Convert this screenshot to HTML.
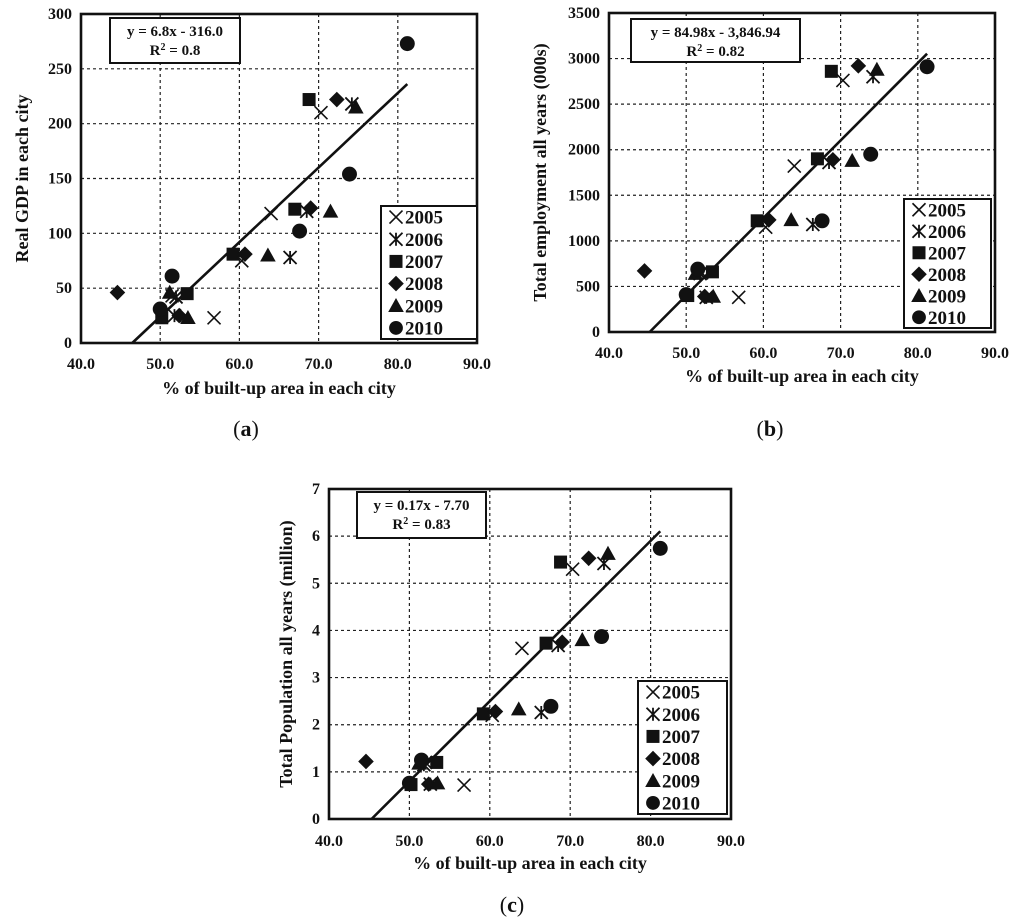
<!DOCTYPE html>
<html><head><meta charset="utf-8"><style>
body{margin:0;background:#fff;width:1024px;height:921px;overflow:hidden}
svg{position:absolute;left:0;top:0}
text{font-family:"Liberation Serif",serif;font-weight:bold;fill:#111}
</style></head><body>
<svg id="s" width="1024" height="921"></svg>
<script>
const years=["2005","2006","2007","2008","2009","2010"];
// chart a
const aX=[[70.3,64.0,60.3,56.8,51.5],[74.2,68.5,66.4,52.0,51.8],[68.8,67.0,59.2,53.4,50.2],[72.3,69.0,60.7,44.6,52.4],[74.7,71.5,63.6,53.5,51.2],[81.2,73.9,67.6,51.5,50.0]];
const aY=[[210,118,75,23,43],[218,120,78,42,25],[222,122,81,45,23],[222,123,81,46,25],[215,120,80,23,46],[273,154,102,61,31]];
// chart b
const bX=[[70.3,64.0,60.3,56.8,52.0],[74.2,68.5,66.4,52.6,51.8],[68.8,67.0,59.2,53.4,50.2],[72.3,69.0,60.7,44.6,52.4],[74.7,71.5,63.6,53.5,51.2],[81.2,73.9,67.6,51.5,50.0]];
const bY=[[2760,1820,1150,380,650],[2800,1860,1180,380,640],[2860,1900,1220,660,400],[2920,1890,1230,670,390],[2880,1880,1230,390,640],[2910,1950,1220,690,410]];
// chart c
const cX=bX;
const cY=[[5.3,3.62,2.2,0.72,1.2],[5.42,3.68,2.26,0.74,1.15],[5.45,3.73,2.23,1.2,0.73],[5.53,3.75,2.28,1.22,0.74],[5.63,3.8,2.33,0.76,1.18],[5.74,3.87,2.39,1.25,0.76]];
const xTicks=["40.0","50.0","60.0","70.0","80.0","90.0"];
const aTicks=[0,50,100,150,200,250,300];
const bTicks=[0,500,1000,1500,2000,2500,3000,3500];
const cTicks=[0,1,2,3,4,5,6,7];
const aFit=[6.8,-316.0], bFit=[84.98,-3846.94], cFit=[0.17,-7.70];

const NS="http://www.w3.org/2000/svg";
const svg=document.getElementById('s');
function el(t,a,p){const e=document.createElementNS(NS,t);for(const k in a)e.setAttribute(k,a[k]);(p||svg).appendChild(e);return e;}
function marker(g,i,cx,cy,s){
 let e;
 if(i===0){e=el('path',{d:`M${cx-s},${cy-s}L${cx+s},${cy+s}M${cx-s},${cy+s}L${cx+s},${cy-s}`,stroke:'#111','stroke-width':1.6,fill:'none'},g);}
 else if(i===1){e=el('path',{d:`M${cx-s},${cy-s}L${cx+s},${cy+s}M${cx-s},${cy+s}L${cx+s},${cy-s}M${cx},${cy-s}L${cx},${cy+s}`,stroke:'#111','stroke-width':1.8,fill:'none'},g);}
 else if(i===2){e=el('rect',{x:cx-s,y:cy-s,width:2*s,height:2*s,fill:'#111'},g);}
 else if(i===3){const d=s*1.2;e=el('path',{d:`M${cx},${cy-d}L${cx+d},${cy}L${cx},${cy+d}L${cx-d},${cy}Z`,fill:'#111'},g);}
 else if(i===4){const d=s*1.2;e=el('path',{d:`M${cx},${cy-d}L${cx+d},${cy+d*0.8}L${cx-d},${cy+d*0.8}Z`,fill:'#111'},g);}
 else {e=el('circle',{cx:cx,cy:cy,r:s*1.15,fill:'#111'},g);}
 return e;
}
function chart(o){
 const g=el('g',{});
 
 
 const xs=v=>o.L+(v-40)/50*(o.R-o.L);
 const ys=v=>o.B-v/o.ymax*(o.B-o.T);
 for(let k=1;k<5;k++){const x=xs(40+k*10);const l=el('line',{x1:x,x2:x,y1:o.T,y2:o.B,stroke:'#222','stroke-width':1.2,'stroke-dasharray':'3,3'},g);
  }
 o.ticks.forEach((t,k)=>{const y=ys(t);
  if(k>0&&k<o.ticks.length-1){const l=el('line',{x1:o.L,x2:o.R,y1:y,y2:y,stroke:'#222','stroke-width':1.2,'stroke-dasharray':'3,3'},g);
   }
  const tx=el('text',{x:o.L-9,y:y+5,'text-anchor':'end','font-size':16},g);tx.textContent=t;
  });
 xTicks.forEach((t,k)=>{const tx=el('text',{x:xs(40+k*10),y:o.xt,'text-anchor':'middle','font-size':16},g);tx.textContent=t;
  });
 const x0=-o.fit[1]/o.fit[0],x1=81.2;
 const fl=el('line',{x1:xs(x0),y1:ys(0),x2:xs(x1),y2:ys(o.fit[0]*x1+o.fit[1]),stroke:'#111','stroke-width':2.6},g);
 
 o.X.forEach((arr,i)=>arr.forEach((v,j)=>{const m=marker(g,i,xs(v),ys(o.Y[i][j]),6.5);
  }));
 const fr=el('rect',{x:o.L,y:o.T,width:o.R-o.L,height:o.B-o.T,fill:'none',stroke:'#111','stroke-width':2.6},g);
 
 const eb=el('rect',{x:o.eq[0],y:o.eq[1],width:o.eq[2],height:o.eq[3],fill:'#fff',stroke:'#111','stroke-width':2},g);
 
 const ecx=o.eq[0]+o.eq[2]/2;
 const e1=el('text',{x:ecx,y:o.eq[1]+18,'text-anchor':'middle','font-size':15},g);e1.textContent=o.eqText;
 
 const e2=el('text',{x:ecx,y:o.eq[1]+37,'text-anchor':'middle','font-size':15},g);e2.innerHTML='R<tspan font-size="10" dy="-5">2</tspan><tspan dy="5"> = '+o.r2+'</tspan>';
 
 const lb=el('rect',{x:o.lg[0],y:o.lg[1],width:o.lg[2],height:o.lg[3],fill:'#fff',stroke:'#111','stroke-width':2},g);
 
 const step=o.lg[3]/6;
 years.forEach((yr,i)=>{const cy=o.lg[1]+step*(i+0.5);
  const m=marker(g,i,o.lg[0]+15,cy,i===5?6:6.5);
  const t=el('text',{x:o.lg[0]+24,y:cy+6.5,'font-size':19},g);t.textContent=yr;
  });
 const xt=el('text',{x:(o.L+o.R)/2,y:o.xtt,'text-anchor':'middle','font-size':18},g);xt.textContent='% of built-up area in each city';
 
 const yc=(o.T+o.B)/2;
 const yt=el('text',{x:o.ytx,y:yc,'text-anchor':'middle','font-size':18,transform:`rotate(-90 ${o.ytx} ${yc})`},g);yt.textContent=o.ytitle;
 
 const pl=el('text',{x:o.pl[0],y:o.pl[1],'text-anchor':'middle','font-size':22,style:'font-weight:normal'},g);pl.innerHTML='(<tspan font-weight="bold">'+o.lab+'</tspan>)';
 
}
chart({name:'chart-a',L:81,R:477,T:14,B:343,ymax:300,ticks:aTicks,X:aX,Y:aY,fit:aFit,eq:[110,18,130,45],eqText:'y = 6.8x - 316.0',r2:'0.8',lg:[381,206,96,133],xt:369,xtt:394,ytx:28,ytitle:'Real GDP in each city',pl:[246,436],lab:'a'});
chart({name:'chart-b',L:609,R:995,T:13,B:332,ymax:3500,ticks:bTicks,X:bX,Y:bY,fit:bFit,eq:[631,19,169,43],eqText:'y = 84.98x - 3,846.94',r2:'0.82',lg:[904,199,87,129],xt:358,xtt:382,ytx:546,ytitle:'Total employment all years (000s)',pl:[770,436],lab:'b'});
chart({name:'chart-c',L:329,R:731,T:489,B:819,ymax:7,ticks:cTicks,X:cX,Y:cY,fit:cFit,eq:[357,492,129,46],eqText:'y = 0.17x - 7.70',r2:'0.83',lg:[638,681,89,133],xt:846,xtt:869,ytx:292,ytitle:'Total Population all years (million)',pl:[512,912],lab:'c'});
</script>
</body></html>
